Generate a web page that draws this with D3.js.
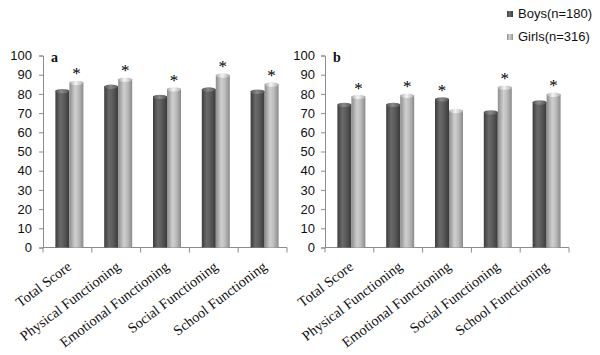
<!DOCTYPE html>
<html><head><meta charset="utf-8">
<script src="https://cdn.jsdelivr.net/npm/d3@7"></script>
<style>body{margin:0;background:#fff}svg{display:block}</style>
</head><body>
<svg id="c" width="600" height="355"></svg>
<script>
const categories = ["Total Score","Physical Functioning","Emotional Functioning","Social Functioning","School Functioning"];
const seriesNames = ["Boys(n=180)","Girls(n=316)"];
const boysA = [82.5, 84.8, 79.5, 83.3, 82.2];
const girlsA = [86.8, 88.5, 83.4, 90.6, 85.9];
const boysB = [75.3, 75.3, 78.2, 71.4, 76.6];
const girlsB = [79.4, 80.1, 72.1, 84.3, 80.6];
// which bar carries an asterisk: 0 = boys, 1 = girls
const starA = [1, 1, 1, 1, 1];
const starB = [1, 1, 0, 1, 1];
const yTicks = [0,10,20,30,40,50,60,70,80,90,100];
const panelLabels = ["a","b"];

const svg = d3.select("#c");
const defs = svg.append("defs");
function grad(id, stops){
  const g = defs.append("linearGradient").attr("id", id).attr("x1","0").attr("x2","1").attr("y1","0").attr("y2","0");
  stops.forEach(s => g.append("stop").attr("offset", s[0]).attr("stop-color", s[1]));
}
grad("gBoys", [[0,"#3c3c3c"],[0.35,"#6a6a6a"],[0.6,"#5c5c5c"],[1,"#3a3a3a"]]);
grad("gGirls", [[0,"#8c8c8c"],[0.4,"#cfcfcf"],[0.65,"#bdbdbd"],[1,"#8a8a8a"]]);
grad("gBoysCap", [[0,"#555"],[0.45,"#8a8a8a"],[1,"#555"]]);
grad("gGirlsCap", [[0,"#aaa"],[0.45,"#f4f4f4"],[1,"#b0b0b0"]]);

const y = d3.scaleLinear().domain([0,100]).range([247.5, 55.5]);

function panel(x0, x1, boys, girls, stars, label, labelGap){
  const x = d3.scaleBand().domain(categories).range([x0, x1]).paddingInner(0).paddingOuter(0);
  const g = svg.append("g");
  // y axis
  const ya = d3.axisLeft(y).tickValues(yTicks).tickSize(4).tickPadding(labelGap);
  const yg = g.append("g").attr("transform", `translate(${x0},0)`).call(ya);
  yg.select(".domain").attr("stroke","#8c8c8c");
  yg.selectAll(".tick line").attr("stroke","#8c8c8c");
  yg.selectAll("text").attr("font-family","'Liberation Sans', Arial, sans-serif").attr("font-size",13).attr("fill","#111");
  // x axis
  const xg = g.append("g").attr("transform", `translate(0,${y(0)})`);
  xg.append("line").attr("x1", x0).attr("x2", x1).attr("stroke","#8c8c8c");
  const edges = categories.map(c => x(c)).concat([x1]);
  xg.selectAll("line.t").data(edges).join("line").attr("class","t")
    .attr("x1", d=>d).attr("x2", d=>d).attr("y1",0).attr("y2",5).attr("stroke","#8c8c8c");
  xg.selectAll("text").data(categories).join("text")
    .attr("transform", d => `translate(${x(d)+x.bandwidth()/2+5},${21}) rotate(-37)`)
    .attr("text-anchor","end")
    .attr("font-family","'Liberation Serif','Times New Roman',serif").attr("font-size",14.3).attr("fill","#111")
    .text(d=>d);
  // bars
  const bw = 14;
  const data = [];
  categories.forEach((c,i) => {
    const cx = x(c) + x.bandwidth()/2 + 2;
    data.push({c, s:0, v:boys[i], x: cx - bw, star: stars[i]===0});
    data.push({c, s:1, v:girls[i], x: cx, star: stars[i]===1});
  });
  const bars = g.append("g");
  bars.selectAll("rect").data(data).join("rect")
    .attr("x", d=>d.x).attr("width", bw)
    .attr("y", d=>y(d.v)+1.5).attr("height", d=>y(0)-y(d.v)-1.5)
    .attr("fill", d=> d.s===0 ? "url(#gBoys)" : "url(#gGirls)");
  bars.selectAll("ellipse").data(data).join("ellipse")
    .attr("cx", d=>d.x+bw/2).attr("cy", d=>y(d.v)+2).attr("rx", bw/2).attr("ry", 2.2)
    .attr("fill", d=> d.s===0 ? "url(#gBoysCap)" : "url(#gGirlsCap)");
  g.selectAll("text.star").data(data.filter(d=>d.star)).join("text").attr("class","star")
    .attr("x", d=>d.x+bw/2).attr("y", d=>y(d.v)-1.5)
    .attr("text-anchor","middle")
    .attr("font-family","'Liberation Serif','Times New Roman',serif").attr("font-size",17).attr("fill","#000")
    .text("*");
  g.append("text").attr("x", x0+8).attr("y", 62)
    .attr("font-family","'Liberation Serif','Times New Roman',serif").attr("font-size",14).attr("font-weight","bold")
    .attr("fill","#111").text(label);
}

panel(43, 287, boysA, girlsA, starA, panelLabels[0], 7);
panel(325, 569, boysB, girlsB, starB, panelLabels[1], 6);

// legend
const leg = svg.append("g");
seriesNames.forEach((n,i) => {
  const yy = 11 + i*23;
  leg.append("rect").attr("x",507).attr("y",yy).attr("width",6).attr("height",6)
    .attr("fill", i===0 ? "url(#gBoys)" : "url(#gGirls)");
  leg.append("text").attr("x",518).attr("y",yy+7)
    .attr("font-family","'Liberation Sans', Arial, sans-serif").attr("font-size",13).attr("fill","#111").text(n);
});
</script>
</body></html>
